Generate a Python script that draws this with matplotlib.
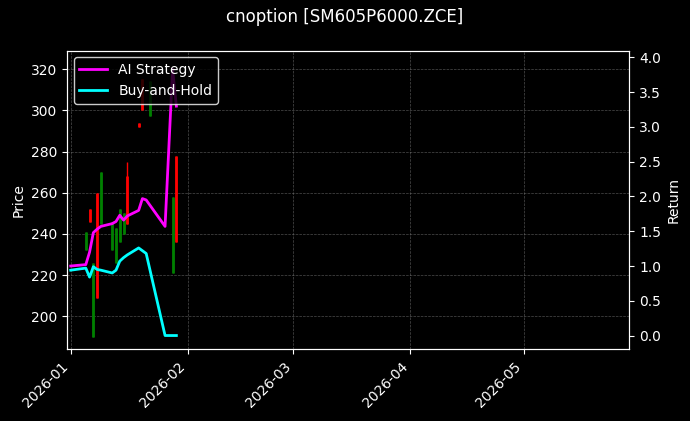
import numpy as np
import pandas as pd
import matplotlib
matplotlib.use('Agg')
import matplotlib.pyplot as plt
import matplotlib.dates as mdates

title = 'cnoption [SM605P6000.ZCE]'

# candles: date, open, high, low, close
candle_dates = ['2026-01-05', '2026-01-06', '2026-01-07', '2026-01-08', '2026-01-09',
                '2026-01-12', '2026-01-13', '2026-01-14', '2026-01-15', '2026-01-16',
                '2026-01-19', '2026-01-20', '2026-01-22', '2026-01-28', '2026-01-29']
opens = [241, 246, 226, 209, 270, 246, 243, 252, 250, 245, 292, 300, 314, 258, 236]
highs = [241, 252, 226, 260, 270, 246, 243, 252, 250, 275, 294, 315, 314, 258, 278]
lows = [232, 246, 190, 209, 245, 232, 226, 236, 240, 245, 292, 300, 297, 221, 236]
closes = [232, 252, 190, 260, 245, 232, 226, 236, 240, 268, 294, 315, 297, 221, 278]

line_dates = ['2026-01-01', '2026-01-05', '2026-01-06', '2026-01-07', '2026-01-08', '2026-01-09',
              '2026-01-12', '2026-01-13', '2026-01-14', '2026-01-15', '2026-01-16',
              '2026-01-19', '2026-01-20', '2026-01-21', '2026-01-26', '2026-01-28', '2026-01-29']
ai_strategy = [1.0, 1.02, 1.2, 1.48, 1.53, 1.57, 1.61, 1.64, 1.73, 1.66, 1.72,
               1.80, 1.97, 1.95, 1.57, 3.83, 3.3]
buy_hold = [0.94, 0.97, 0.84, 0.99, 0.95, 0.94, 0.90, 0.94, 1.07, 1.12, 1.16,
            1.26, 1.22, 1.18, 0.0, 0.0, 0.0]

plt.style.use('dark_background')
fig, ax = plt.subplots(figsize=(6.9, 4.21), dpi=100)
ax2 = ax.twinx()

cd = pd.to_datetime(candle_dates)
for d, o, h, l, c in zip(cd, opens, highs, lows, closes):
    col = 'red' if c >= o else 'green'
    ax.vlines(d, l, h, color=col, linewidth=1)
    ax.vlines(d, min(o, c), max(o, c), color=col, linewidth=2)

ld = pd.to_datetime(line_dates)
ax2.plot(ld, ai_strategy, color='magenta', linewidth=2, label='AI Strategy')
ax2.plot(ld, buy_hold, color='cyan', linewidth=2, label='Buy-and-Hold')

ax.set_ylim(184, 329)
ax2.set_ylim(-0.2, 4.1)
ax.set_xlim(pd.Timestamp('2025-12-31'), pd.Timestamp('2026-05-29'))
ax.xaxis.set_major_locator(mdates.MonthLocator())
ax.xaxis.set_major_formatter(mdates.DateFormatter('%Y-%m'))
plt.setp(ax.get_xticklabels(), rotation=45, ha='right')
ax.set_ylabel('Price')
ax2.set_ylabel('Return')
ax.grid(True, linestyle='--', linewidth=0.5, color='gray', alpha=0.6)
ax2.legend(loc='upper left', facecolor='black', edgecolor='white')
fig.suptitle(title, fontsize=12)
fig.subplots_adjust(left=0.097, right=0.912, top=0.88, bottom=0.17)
fig.savefig('out.png')
